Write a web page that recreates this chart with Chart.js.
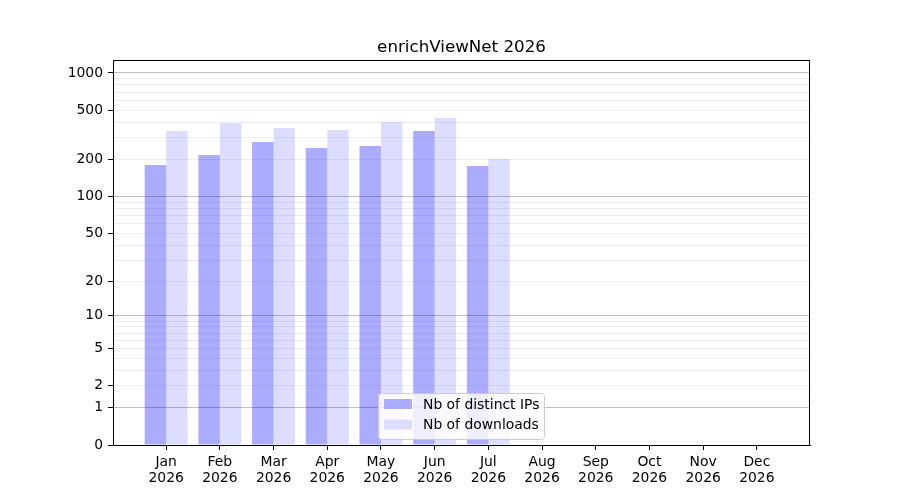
<!DOCTYPE html>
<html>
<head>
<meta charset="utf-8">
<title>enrichViewNet 2026</title>
<script src="https://cdn.jsdelivr.net/npm/chart.js@4/dist/chart.umd.min.js"></script>
<style>
    html, body { margin: 0; padding: 0; background: #fff; }
    #wrap { width: 900px; height: 500px; position: relative; }
</style>
</head>
<body>
<div id="wrap"><canvas id="chart"></canvas></div>
<script>
// ===== Data =====
const chartTitle = 'enrichViewNet 2026';
const months = ['Jan', 'Feb', 'Mar', 'Apr', 'May', 'Jun', 'Jul', 'Aug', 'Sep', 'Oct', 'Nov', 'Dec'];
const year = '2026';
const distinctIPs = [180, 217, 277, 248, 257, 340, 177];
const downloads = [340, 395, 359, 346, 402, 433, 202];
const yTickValues = [0, 1, 2, 5, 10, 20, 50, 100, 200, 500, 1000];
const yMajorGrid = [1, 10, 100, 1000];
const yMinorGrid = [2, 3, 4, 5, 6, 7, 8, 9, 20, 30, 40, 50, 60, 70, 80, 90,
                    200, 300, 400, 500, 600, 700, 800, 900];

const FONT = 'DejaVu Sans';

// y axis is log10(1 + value), like matplotlib's log1p style scale
function tf(v) { return Math.log10(1 + v); }
function near(a, b) { return Math.abs(a - b) < 1e-9; }

function toPoints(values) {
    return values.map((v, i) => ({ x: i, y: tf(v) }));
}

// ===== Plugins =====
const framePlugin = {
    id: 'frame',
    afterDraw(chart) {
        const ctx = chart.ctx;
        const a = chart.chartArea;
        ctx.save();
        ctx.strokeStyle = '#000';
        ctx.lineWidth = 1;
        ctx.strokeRect(a.left + 0.5, a.top + 0.5, a.right - a.left - 1, a.bottom - a.top);

        // title
        ctx.fillStyle = '#000';
        ctx.font = '16.7px "' + FONT + '"';
        ctx.textAlign = 'center';
        ctx.textBaseline = 'alphabetic';
        ctx.fillText(chartTitle, (a.left + a.right) / 2, 52);

        // legend box
        const bx = 378, by = 393, bw = 166, bh = 46;
        ctx.beginPath();
        ctx.roundRect(bx + 0.5, by + 0.5, bw, bh, 3);
        ctx.fillStyle = 'rgba(255,255,255,0.8)';
        ctx.fill();
        ctx.strokeStyle = '#cccccc';
        ctx.stroke();

        ctx.font = '13.9px "' + FONT + '"';
        ctx.textAlign = 'left';
        ctx.textBaseline = 'middle';
        chart.data.datasets.forEach((ds, i) => {
            const cy = 404 + i * 20.5;
            ctx.fillStyle = '#fff';
            ctx.fillRect(384, cy - 5, 28, 10);
            ctx.fillStyle = ds.backgroundColor;
            ctx.fillRect(384, cy - 5, 28, 10);
            ctx.fillStyle = '#000';
            ctx.fillText(ds.label, 423, cy + 1);
        });
        ctx.restore();
    }
};

// ===== Chart =====
const ctx = document.getElementById('chart').getContext('2d');
new Chart(ctx, {
    type: 'bar',
    data: {
        datasets: [{
            label: 'Nb of distinct IPs',
            data: toPoints(distinctIPs),
            backgroundColor: 'rgba(0,0,255,0.33)',
            borderWidth: 0,
            categoryPercentage: 0.8,
            barPercentage: 1.0
        }, {
            label: 'Nb of downloads',
            data: toPoints(downloads),
            backgroundColor: 'rgba(0,0,255,0.135)',
            borderWidth: 0,
            categoryPercentage: 0.8,
            barPercentage: 1.0
        }]
    },
    options: {
        responsive: true,
        maintainAspectRatio: false,
        animation: false,
        layout: { padding: { left: 0, top: 60, right: 90, bottom: 0 } },
        plugins: {
            legend: { display: false },
            title: { display: false },
            tooltip: { enabled: false }
        },
        scales: {
            x: {
                type: 'linear',
                offset: false,
                min: -0.99,
                max: 11.99,
                afterFit(scale) { scale.height = 55; },
                afterBuildTicks(scale) {
                    scale.ticks = months.map((m, i) => ({ value: i }));
                },
                grid: {
                    offset: false,
                    drawOnChartArea: false,
                    drawTicks: true,
                    tickLength: 5,
                    tickColor: '#000'
                },
                border: { display: true, color: '#000', width: 1 },
                ticks: {
                    autoSkip: false,
                    maxRotation: 0,
                    padding: 4,
                    color: '#000',
                    font: { family: FONT, size: 13.9, lineHeight: 1.15 },
                    callback(value) {
                        const i = Math.round(value);
                        return [months[i], year];
                    }
                }
            },
            y: {
                type: 'linear',
                min: 0,
                max: 3.105,
                afterFit(scale) { scale.width = 113; },
                afterBuildTicks(scale) {
                    const all = yTickValues.concat(yMinorGrid.filter(v => yTickValues.indexOf(v) < 0));
                    scale.ticks = all.map(v => ({ value: tf(v) }));
                },
                grid: {
                    drawTicks: true,
                    tickLength: 5,
                    color(c) {
                        const v = c.tick ? c.tick.value : 0;
                        if (yMajorGrid.some(m => near(tf(m), v))) return 'rgba(0,0,0,0.25)';
                        if (yMinorGrid.some(m => near(tf(m), v))) return 'rgba(0,0,0,0.07)';
                        return 'rgba(0,0,0,0)';
                    },
                    tickColor(c) {
                        const v = c.tick ? c.tick.value : 0;
                        return yTickValues.some(m => near(tf(m), v)) ? '#000' : 'rgba(0,0,0,0)';
                    }
                },
                border: { display: true, color: '#000', width: 1 },
                ticks: {
                    autoSkip: false,
                    padding: 5,
                    color: '#000',
                    font: { family: FONT, size: 13.9 },
                    callback(value) {
                        const hit = yTickValues.find(m => near(tf(m), value));
                        return hit === undefined ? '' : String(hit);
                    }
                }
            }
        }
    },
    plugins: [framePlugin]
});
</script>
</body>
</html>
